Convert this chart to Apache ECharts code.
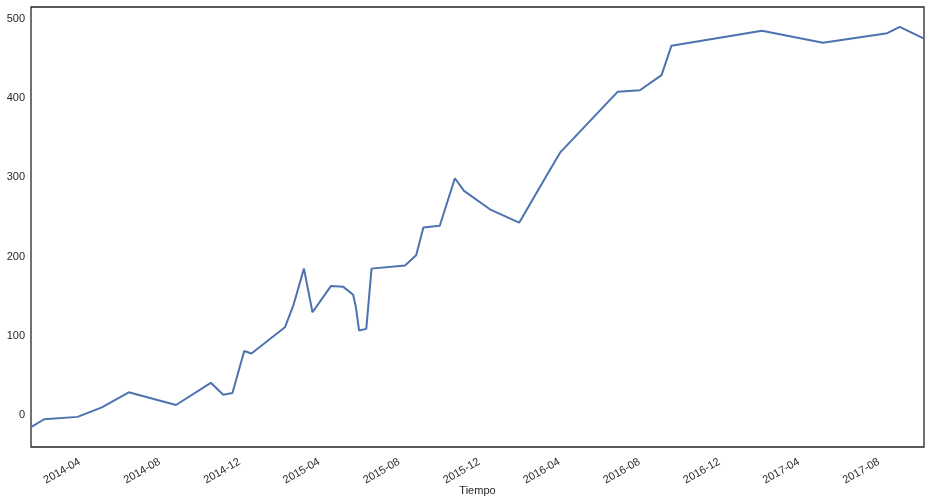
<!DOCTYPE html>
<html>
<head>
<meta charset="utf-8">
<script src="https://cdn.jsdelivr.net/npm/echarts@6/dist/echarts.min.js"></script>
<style>
  html, body { margin: 0; padding: 0; background: #fff; }
  #chart { width: 931px; height: 503px; }
</style>
</head>
<body>
<div id="chart"></div>
<script>
// fechas y valores
const fechas = [
  "2014-01-17", "2014-02-06", "2014-03-29", "2014-05-05", "2014-06-15",
  "2014-08-26", "2014-10-18", "2014-11-06", "2014-11-20", "2014-12-08",
  "2014-12-19", "2015-02-08", "2015-02-21", "2015-03-09", "2015-03-22",
  "2015-04-19", "2015-05-08", "2015-05-23", "2015-05-27", "2015-06-01",
  "2015-06-12", "2015-06-20", "2015-08-10", "2015-08-27", "2015-09-07",
  "2015-10-02", "2015-10-25", "2015-11-08", "2015-12-19", "2016-01-31",
  "2016-03-16", "2016-04-03", "2016-06-29", "2016-08-02", "2016-09-04",
  "2016-09-19", "2017-02-04", "2017-05-08", "2017-08-14", "2017-09-02",
  "2017-10-09"
];
const valores = [
  -15, -5, -2, 10, 29,
  13, 41, 26, 28, 81,
  78, 111, 139, 185, 130,
  163, 162, 152, 137, 107,
  109, 185, 189, 202, 237,
  239, 299, 283, 259, 243,
  307, 332, 408, 410, 429,
  466, 485, 470, 482, 490,
  475
];
const etiquetasX = [
  "2014-04", "2014-08", "2014-12", "2015-04", "2015-08", "2015-12",
  "2016-04", "2016-08", "2016-12", "2017-04", "2017-08"
];
const etiquetasY = [0, 100, 200, 300, 400, 500];

// fecha "YYYY-MM-DD" -> milisegundos (UTC)
const ms = s => Date.parse(s + "T00:00:00Z");
const serie = fechas.map((f, i) => [ms(f), valores[i]]);
const ticksX = etiquetasX.map(e => ms(e + "-01"));

const myChart = echarts.init(document.getElementById("chart"));
const textColor = "#262626";
const option = {
  animation: false,
  backgroundColor: "#ffffff",
  grid: {
    left: 31, right: 7, top: 7, bottom: 56,
    outerBoundsMode: "none",
    containLabel: false,
    show: true,
    borderColor: "#262626",
    borderWidth: 1.3
  },
  xAxis: {
    type: "value",
    min: serie[0][0],
    max: serie[serie.length - 1][0],
    name: "Tiempo",
    nameLocation: "middle",
    nameGap: 38,
    nameMoveOverlap: false,
    nameTextStyle: { color: textColor, fontSize: 11, fontFamily: "Liberation Sans" },
    axisLine: { show: false },
    axisTick: { show: false },
    splitLine: { show: false },
    axisLabel: {
      customValues: ticksX,
      rotate: 30,
      margin: 14,
      color: textColor,
      fontSize: 11,
      fontFamily: "Liberation Sans",
      formatter: v => etiquetasX[ticksX.indexOf(v)]
    }
  },
  yAxis: {
    type: "value",
    min: -40,
    max: 515,
    axisLine: { show: false },
    axisTick: { show: false },
    splitLine: { show: false },
    axisLabel: {
      customValues: etiquetasY,
      margin: 6,
      color: textColor,
      fontSize: 11,
      fontFamily: "Liberation Sans"
    }
  },
  series: [
    {
      type: "line",
      data: serie,
      showSymbol: false,
      lineStyle: { color: "#4c72b0", width: 2 },
      itemStyle: { color: "#4c72b0" }
    }
  ]
};
myChart.setOption(option);
</script>
</body>
</html>
